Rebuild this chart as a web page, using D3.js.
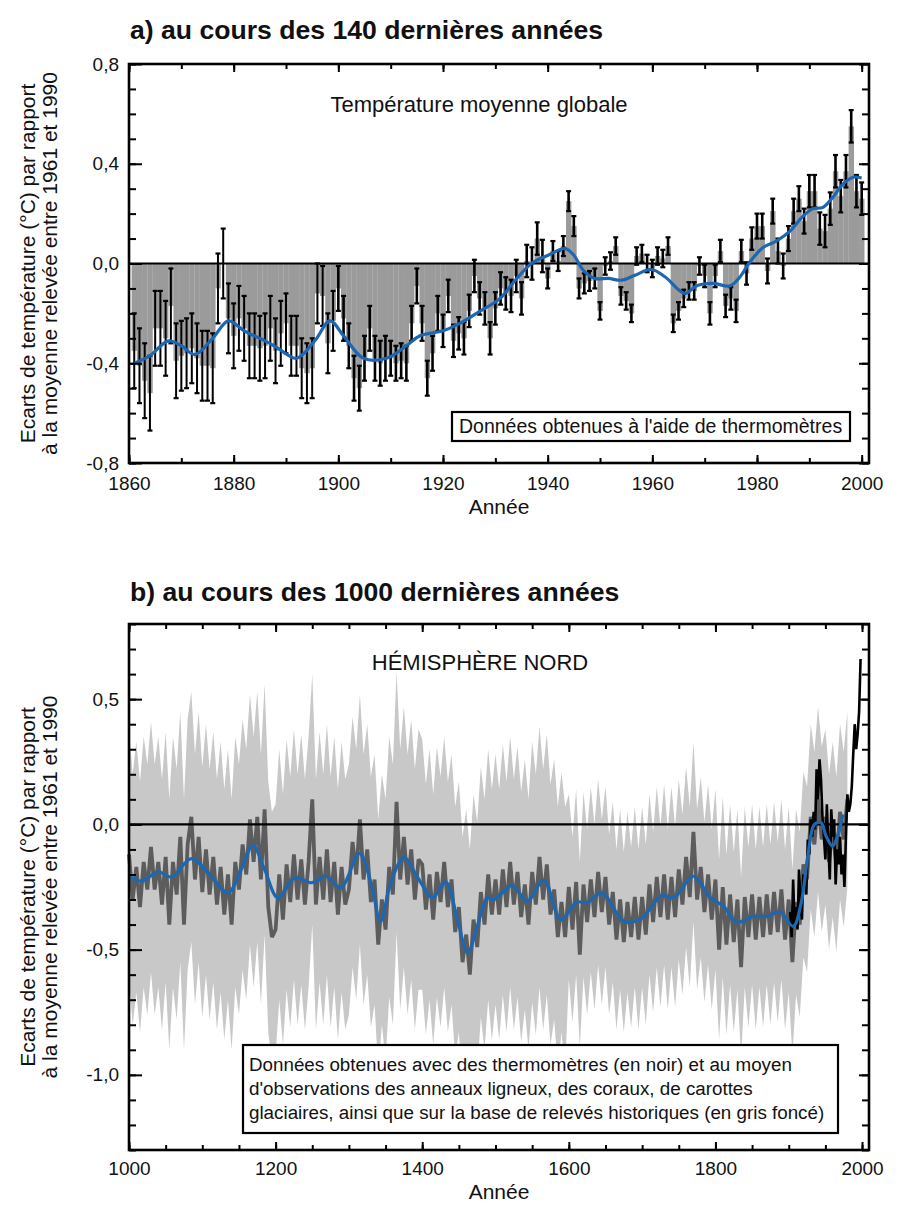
<!DOCTYPE html>
<html><head><meta charset="utf-8">
<script src="https://cdn.jsdelivr.net/npm/d3@7"></script>
<style>body{margin:0;background:#fff} text{font-family:"Liberation Sans",Arial,Helvetica,sans-serif;fill:#111}</style>
</head><body><svg id="c" width="899" height="1205"></svg>
<script>
// ---------- DATA: panel a (global annual anomalies, 1861-2000) ----------
const yearsA = d3.range(1861, 2001);
const anomA = [
 -0.35,-0.41,-0.47,-0.52,-0.26,-0.26,-0.30,-0.17,-0.39,-0.37, // 1861-1870
 -0.36,-0.34,-0.38,-0.41,-0.41,-0.42,-0.10, 0.00,-0.22,-0.29, // 1871-1880
 -0.22,-0.26,-0.33,-0.33,-0.34,-0.33,-0.26,-0.35,-0.28,-0.24, // 1881-1890
 -0.33,-0.33,-0.42,-0.44,-0.42,-0.12,-0.13,-0.32,-0.23,-0.10, // 1891-1900
 -0.22,-0.33,-0.46,-0.50,-0.38,-0.26,-0.38,-0.40,-0.38,-0.38, // 1901-1910
 -0.40,-0.39,-0.40,-0.24,-0.09,-0.24,-0.46,-0.36,-0.20,-0.27, // 1911-1920
 -0.13,-0.31,-0.28,-0.30,-0.19,-0.05,-0.14,-0.18,-0.30,-0.18, // 1921-1930
 -0.10,-0.12,-0.13,-0.05,-0.14, 0.01, 0.00, 0.10, 0.03,-0.06, // 1931-1940
  0.05, 0.01, 0.07, 0.25, 0.15,-0.10,-0.08,-0.07,-0.06,-0.19, // 1941-1950
 -0.01, 0.01, 0.07,-0.13,-0.15,-0.20, 0.03, 0.04, 0.00,-0.02, // 1951-1960
  0.03, 0.02, 0.07,-0.24,-0.19,-0.14,-0.11,-0.11,-0.01,-0.05, // 1961-1970
 -0.20,-0.05, 0.05,-0.17,-0.14,-0.19, 0.05,-0.04, 0.10, 0.15, // 1971-1980
  0.15,-0.03, 0.21, 0.05,-0.01, 0.10, 0.21, 0.26, 0.17, 0.29, // 1981-1990
  0.29, 0.14, 0.13, 0.22, 0.37, 0.27, 0.37, 0.55, 0.29, 0.26  // 1991-2000
];
// half-length of the error bars, by decade
const errDecades = [1860,1870,1880,1890,1900,1910,1920,1930,1940,1950,1960,1970,1980,1990];
const errHalf    = [0.15,0.14,0.13,0.12,0.09,0.07,0.065,0.065,0.04,0.035,0.035,0.045,0.05,0.065];
// smoothed curve (blue)
const smoothYearsA = [1861,1864,1867.5,1870,1872.6,1876,1879,1882,1886,1888.5,1892,1895.5,1898.4,1901,1904.8,1909.2,1913,1915.6,1920,1923.2,1926.4,1930.9,1933.7,1936.9,1940.1,1943.3,1945,1946.8,1949,1951.6,1954.1,1956.7,1959.8,1962.4,1966.2,1968.4,1971.6,1974.8,1976.7,1978.6,1981.2,1983.7,1986.3,1988.8,1990.7,1992.6,1994.5,1996.5,1998.4,2000];
const smoothA      = [-0.40,-0.37,-0.31,-0.33,-0.365,-0.30,-0.23,-0.27,-0.31,-0.34,-0.38,-0.31,-0.23,-0.29,-0.38,-0.38,-0.33,-0.29,-0.27,-0.24,-0.20,-0.14,-0.07,0.0,0.033,0.06,0.033,-0.027,-0.06,-0.06,-0.067,-0.047,-0.024,-0.053,-0.12,-0.09,-0.08,-0.09,-0.055,0.005,0.065,0.09,0.13,0.19,0.22,0.225,0.266,0.32,0.346,0.343];
const yTicksA = [-0.8,-0.4,0,0.4,0.8];
const xTicksA = [1860,1880,1900,1920,1940,1960,1980,2000];

// ---------- DATA: panel b (northern hemisphere, 1000-2000) ----------
const yearsB = d3.range(1000, 1981, 5);
const reconB = [
 -0.12,-0.30,-0.17,-0.33,-0.15,-0.26,-0.09,-0.26,-0.15,-0.32,-0.13,-0.40,-0.15,-0.28,-0.05,-0.40,-0.08, 0.03,-0.22,-0.05, // 1000-1095
 -0.27,-0.10,-0.28,-0.13,-0.32,-0.17,-0.36,-0.20,-0.40,-0.15,-0.26,-0.08,-0.20, 0.02,-0.15, 0.03,-0.22, 0.06,-0.33,-0.45, // 1100-1195
 -0.42,-0.20,-0.38,-0.16,-0.31,-0.12,-0.30,-0.14,-0.32,-0.15, 0.10,-0.32,-0.13,-0.30,-0.10,-0.31,-0.15,-0.36,-0.17,-0.32, // 1200-1295
 -0.26,-0.07,-0.20, 0.02,-0.22,-0.10,-0.31,-0.22,-0.48,-0.30,-0.42,-0.17,-0.28, 0.09,-0.22,-0.05,-0.24,-0.10,-0.30,-0.14, // 1300-1395
 -0.16,-0.34,-0.20,-0.38,-0.19,-0.31,-0.15,-0.33,-0.22,-0.43,-0.33,-0.55,-0.44,-0.60,-0.38,-0.49,-0.27,-0.40,-0.20,-0.36, // 1400-1495
 -0.22,-0.36,-0.18,-0.33,-0.15,-0.32,-0.19,-0.37,-0.24,-0.40,-0.19,-0.32,-0.13,-0.30,-0.16,-0.36,-0.26,-0.45,-0.31,-0.45, // 1500-1595
 -0.25,-0.42,-0.23,-0.52,-0.24,-0.39,-0.22,-0.37,-0.19,-0.35,-0.21,-0.40,-0.27,-0.46,-0.30,-0.47,-0.31,-0.45,-0.29,-0.46, // 1600-1695
 -0.29,-0.44,-0.24,-0.39,-0.21,-0.37,-0.20,-0.38,-0.21,-0.37,-0.18,-0.32,-0.13,-0.29,-0.03,-0.30,-0.17,-0.35,-0.20,-0.38, // 1700-1795
 -0.22,-0.50,-0.25,-0.48,-0.28,-0.47,-0.30,-0.57,-0.29,-0.45,-0.28,-0.46,-0.29,-0.45,-0.28,-0.44,-0.27,-0.43,-0.26,-0.46, // 1800-1895
 -0.30,-0.55,-0.31,-0.40,-0.16,-0.22, 0.03,-0.08, 0.10,-0.06, 0.03,-0.15,-0.02,-0.16, 0.05,-0.06, 0.10                    // 1900-1980
];
// half-width of the uncertainty band, per 50-year block starting in 1000
const bandBlocks = [1000,1050,1100,1150,1200,1250,1300,1350,1400,1450,1500,1550,1600,1650,1700,1750,1800,1850,1900,1950];
const bandHalf   = [0.50,0.50,0.50,0.50,0.50,0.50,0.50,0.52,0.50,0.50,0.50,0.52,0.37,0.36,0.36,0.36,0.36,0.36,0.37,0.35];
// instrumental record (black)
const instrYears = d3.range(1902, 1999, 2);
const instrB = [-0.35,-0.45,-0.22,-0.40,-0.33,-0.42,-0.18,-0.30,-0.38,-0.20,-0.22,-0.28,-0.06,-0.12,0.02,-0.05,0.05,-0.02,0.22,0.10,0.26,0.18,0.03,-0.05,-0.14,0.08,-0.08,-0.22,0.06,-0.05,0.02,-0.24,-0.10,-0.16,-0.05,-0.20,-0.12,-0.25,-0.05,0.12,0.05,0.08,0.15,0.28,0.40,0.30,0.36,0.45,0.66];
// smoothed curve (blue)
const smoothYearsB = [1000,1004,1017,1040,1058,1085,1108,1135,1153,1169,1185,1203,1226,1249,1269,1289,1314,1330,1343,1357,1375,1394,1414,1432,1448,1462,1475,1489,1498,1523,1543,1566,1589,1611,1625,1645,1675,1698,1727,1743,1770,1793,1811,1829,1852,1870,1888,1906,1917,1926,1935,1944,1951,1960,1967,1974];
const smoothB      = [-0.21,-0.213,-0.227,-0.19,-0.21,-0.137,-0.193,-0.273,-0.18,-0.084,-0.18,-0.293,-0.213,-0.233,-0.207,-0.253,-0.116,-0.233,-0.387,-0.233,-0.133,-0.213,-0.293,-0.23,-0.38,-0.513,-0.407,-0.293,-0.30,-0.244,-0.307,-0.223,-0.38,-0.31,-0.313,-0.273,-0.387,-0.377,-0.284,-0.293,-0.207,-0.293,-0.327,-0.39,-0.367,-0.367,-0.35,-0.407,-0.313,-0.127,0.0,0.007,-0.047,-0.087,-0.04,0.04];
const yTicksB = [-1.0,-0.5,0,0.5];
const xTicksB = [1000,1200,1400,1600,1800,2000];

// ---------- DRAWING ----------
const svg = d3.select("#c");
const loc = d3.formatLocale({decimal:",", thousands:" ", grouping:[3], currency:["",""], minus:"-"});
const f1 = loc.format(".1f");
const BLUE = "#1d67b2";

function frameAxes(g, x, y, box, o) {
  const styl = s => { s.select(".domain").remove(); s.selectAll("line").attr("stroke","#000").attr("stroke-width",2);
                      s.selectAll("text").attr("font-size",o.tickFont).attr("fill","#111"); };
  g.append("g").attr("transform",`translate(${box.l},0)`).call(d3.axisLeft(y).tickValues(o.yMinor).tickSize(-7).tickFormat("")).call(styl);
  g.append("g").attr("transform",`translate(${box.l},0)`).call(d3.axisLeft(y).tickValues(o.yMajor).tickSize(-13).tickPadding(10).tickFormat(f1)).call(styl);
  g.append("g").attr("transform",`translate(${box.r},0)`).call(d3.axisRight(y).tickValues(o.yMinor).tickSize(-7).tickFormat("")).call(styl);
  g.append("g").attr("transform",`translate(${box.r},0)`).call(d3.axisRight(y).tickValues(o.yMajor).tickSize(-10).tickFormat("")).call(styl);
  g.append("g").attr("transform",`translate(0,${box.b})`).call(d3.axisBottom(x).tickValues(o.xMinor).tickSize(-5).tickFormat("")).call(styl);
  g.append("g").attr("transform",`translate(0,${box.b})`).call(d3.axisBottom(x).tickValues(o.xMajor).tickSize(-8).tickPadding(o.xPad).tickFormat(d3.format("d"))).call(styl);
  g.append("g").attr("transform",`translate(0,${box.t})`).call(d3.axisTop(x).tickValues(o.xMinor).tickSize(-5).tickFormat("")).call(styl);
  g.append("g").attr("transform",`translate(0,${box.t})`).call(d3.axisTop(x).tickValues(o.xMajor).tickSize(-8).tickFormat("")).call(styl);
  g.append("rect").attr("x",box.l).attr("y",box.t).attr("width",box.r-box.l).attr("height",box.b-box.t)
    .attr("fill","none").attr("stroke","#000").attr("stroke-width",2.6);
}
function yTitle(g, cx, cy) {
  const t = g.append("text").attr("transform",`translate(${cx},${cy}) rotate(-90)`).attr("text-anchor","middle").attr("font-size",21);
  t.append("tspan").attr("x",0).attr("dy","0").text("Ecarts de température (°C) par rapport");
  t.append("tspan").attr("x",0).attr("dy","1.05em").text("à la moyenne relevée entre 1961 et 1990");
}

// ----- Panel a -----
const A = {l:129, r:869, t:64, b:463};
const xA = d3.scaleLinear().domain([1860, 2001.4]).range([A.l, A.r]);
const yA = d3.scaleLinear().domain([-0.8, 0.8]).range([A.b, A.t]);
const gA = svg.append("g");
svg.append("text").attr("x",130).attr("y",39).attr("font-size",26.6).attr("font-weight","bold").text("a) au cours des 140 dernières années");

const dataA = yearsA.map((yr,i)=>({yr, v:anomA[i], e:errHalf[Math.min(errHalf.length-1, errDecades.findIndex((d,j)=> yr>=d && (j===errDecades.length-1 || yr<errDecades[j+1])))] }));
gA.selectAll("rect.bar").data(dataA).join("rect").attr("class","bar")
  .attr("x",d=>xA(d.yr-0.5)).attr("width",d=>xA(d.yr+0.5)-xA(d.yr-0.5)+0.2)
  .attr("y",d=>yA(Math.max(0,d.v))).attr("height",d=>Math.abs(yA(d.v)-yA(0)))
  .attr("fill","#9b9b9b");
gA.append("line").attr("x1",A.l).attr("x2",A.r).attr("y1",yA(0)).attr("y2",yA(0)).attr("stroke","#000").attr("stroke-width",2.2);
const eb = gA.selectAll("g.eb").data(dataA).join("g").attr("class","eb").attr("stroke","#000");
eb.append("line").attr("x1",d=>xA(d.yr)).attr("x2",d=>xA(d.yr)).attr("y1",d=>yA(d.v-d.e)).attr("y2",d=>yA(d.v+d.e)).attr("stroke-width",d=>d.yr<1900?2:2.6);
eb.append("line").attr("x1",d=>xA(d.yr)-2.5).attr("x2",d=>xA(d.yr)+2.5).attr("y1",d=>yA(d.v+d.e)).attr("y2",d=>yA(d.v+d.e)).attr("stroke-width",2.2);
eb.append("line").attr("x1",d=>xA(d.yr)-2.5).attr("x2",d=>xA(d.yr)+2.5).attr("y1",d=>yA(d.v-d.e)).attr("y2",d=>yA(d.v-d.e)).attr("stroke-width",2.2);
gA.append("path").datum(smoothYearsA.map((y,i)=>[y,smoothA[i]]))
  .attr("d",d3.line().x(d=>xA(d[0])).y(d=>yA(d[1])).curve(d3.curveCatmullRom))
  .attr("fill","none").attr("stroke",BLUE).attr("stroke-width",3.2);
frameAxes(gA, xA, yA, A, {tickFont:19, xPad:14, yMinor:d3.range(-8,9).map(d=>d/10), yMajor:yTicksA,
  xMinor:d3.range(1860,2001,10), xMajor:xTicksA});
gA.append("text").attr("x",479).attr("y",112).attr("text-anchor","middle").attr("font-size",22).text("Température moyenne globale");
gA.append("rect").attr("x",452).attr("y",412).attr("width",398).attr("height",29).attr("fill","#fff").attr("stroke","#000").attr("stroke-width",2.2);
gA.append("text").attr("x",459).attr("y",433).attr("font-size",19.5).text("Données obtenues à l'aide de thermomètres");
gA.append("text").attr("x",(A.l+A.r)/2).attr("y",514).attr("text-anchor","middle").attr("font-size",21).text("Année");
yTitle(gA, 35, (A.t+A.b)/2);

// ----- Panel b -----
const B = {l:129, r:869, t:624, b:1150};
const xB = d3.scaleLinear().domain([1000, 2009.5]).range([B.l, B.r]);
const yB = d3.scaleLinear().domain([-1.3, 0.8]).range([B.b, B.t]);
const gB = svg.append("g");
svg.append("text").attr("x",130).attr("y",601).attr("font-size",26.6).attr("font-weight","bold").text("b) au cours des 1000 dernières années");

const dataB = yearsB.map((yr,i)=>({yr, v:reconB[i], h:bandHalf[Math.min(bandHalf.length-1, Math.floor((yr-bandBlocks[0])/50))]}));
gB.append("path").datum(dataB)
  .attr("d",d3.area().x(d=>xB(d.yr)).y0(d=>yB(d.v-d.h)).y1(d=>yB(d.v+d.h)).curve(d3.curveLinear))
  .attr("fill","#c8c8c8");
gB.append("path").datum(dataB)
  .attr("d",d3.line().x(d=>xB(d.yr)).y(d=>yB(d.v)).curve(d3.curveLinear))
  .attr("fill","none").attr("stroke","#5c5c5c").attr("stroke-width",3.8).attr("stroke-linejoin","miter").attr("stroke-miterlimit",2);
gB.append("line").attr("x1",B.l).attr("x2",B.r).attr("y1",yB(0)).attr("y2",yB(0)).attr("stroke","#000").attr("stroke-width",2.2);
gB.append("path").datum(instrYears.map((y,i)=>[y,instrB[i]]))
  .attr("d",d3.line().x(d=>xB(d[0])).y(d=>yB(d[1])).curve(d3.curveLinear))
  .attr("fill","none").attr("stroke","#000").attr("stroke-width",2.6);
gB.append("path").datum(smoothYearsB.map((y,i)=>[y,smoothB[i]]))
  .attr("d",d3.line().x(d=>xB(d[0])).y(d=>yB(d[1])).curve(d3.curveCatmullRom))
  .attr("fill","none").attr("stroke",BLUE).attr("stroke-width",3.2);
frameAxes(gB, xB, yB, B, {tickFont:19, xPad:12, yMinor:d3.range(-13,9).map(d=>d/10), yMajor:yTicksB,
  xMinor:d3.range(1000,2001,50), xMajor:xTicksB});
gB.append("text").attr("x",480).attr("y",670).attr("text-anchor","middle").attr("font-size",22).text("HÉMISPHÈRE NORD");
gB.append("rect").attr("x",243).attr("y",1045).attr("width",595).attr("height",88).attr("fill","#fff").attr("stroke","#000").attr("stroke-width",2.2);
const lg = gB.append("text").attr("font-size",18.8);
["Données obtenues avec des thermomètres (en noir) et au moyen",
 "d'observations des anneaux ligneux, des coraux, de carottes",
 "glaciaires, ainsi que sur la base de relevés historiques (en gris foncé)"]
 .forEach((s,i)=> lg.append("tspan").attr("x",249).attr("y",1071+i*24).text(s));
gB.append("text").attr("x",(B.l+B.r)/2).attr("y",1199).attr("text-anchor","middle").attr("font-size",21).text("Année");
yTitle(gB, 35, (B.t+B.b)/2);
</script></body></html>
